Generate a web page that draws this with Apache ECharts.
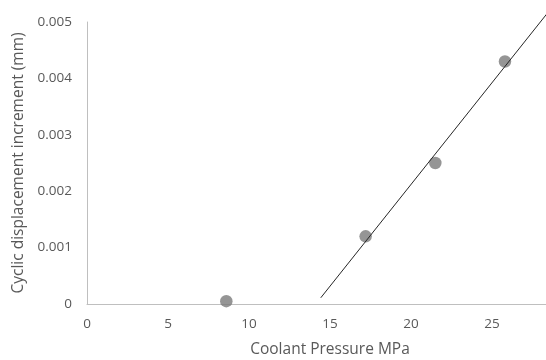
<!DOCTYPE html>
<html><head><meta charset="utf-8">
<script src="https://cdn.jsdelivr.net/npm/echarts@6/dist/echarts.min.js"></script>
<style>html,body{margin:0;padding:0;background:#fff}#c{width:546px;height:360px}</style>
</head><body><div id="c"></div>
<script>
const pressure = [8.6, 17.2, 21.5, 25.8];
const displacement = [0.00005, 0.0012, 0.0025, 0.0043];
const trendX = [14.43, 28.4];
const trendY = [0.00011, 0.00515];
const xTicks = [0, 5, 10, 15, 20, 25, 30];
const yTicks = [0, 0.001, 0.002, 0.003, 0.004, 0.005];

const font = '"Open Sans", "Liberation Sans", sans-serif';
const chart = echarts.init(document.getElementById('c'), null, {renderer: 'canvas'});
chart.setOption({
  animation: false,
  grid: {left: 87, right: -27, top: 22, bottom: 56, containLabel: false, outerBoundsMode: 'none'},
  xAxis: {
    type: 'value', min: xTicks[0], max: xTicks[xTicks.length-1], interval: 5,
    name: 'Coolant Pressure MPa', nameLocation: 'middle', nameGap: 38,
    nameTextStyle: {color: '#595959', fontSize: 15.5, fontFamily: font},
    axisLine: {show: true, lineStyle: {color: '#bfbfbf', width: 1}},
    axisTick: {show: false},
    splitLine: {show: false},
    axisLabel: {color: '#595959', fontSize: 13.5, fontFamily: font, margin: 13}
  },
  yAxis: {
    type: 'value', min: yTicks[0], max: yTicks[yTicks.length-1], interval: 0.001,
    name: 'Cyclic displacement increment (mm)', nameLocation: 'middle', nameGap: 56,
    nameTextStyle: {color: '#595959', fontSize: 15.5, fontFamily: font},
    axisLine: {show: true, lineStyle: {color: '#bfbfbf', width: 1}},
    axisTick: {show: false},
    splitLine: {show: false},
    axisLabel: {color: '#595959', fontSize: 13.5, fontFamily: font, margin: 15,
      formatter: v => v === 0 ? '0' : v.toFixed(3)}
  },
  series: [
    {type: 'line', data: trendX.map((x, i) => [x, trendY[i]]), showSymbol: false, symbol: 'none',
     clip: false, lineStyle: {color: '#262626', width: 1}, z: 3},
    {type: 'scatter', data: pressure.map((x, i) => [x, displacement[i]]), symbolSize: 12.5,
     itemStyle: {color: '#7a7a7a'}, z: 2}
  ]
});
</script></body></html>
